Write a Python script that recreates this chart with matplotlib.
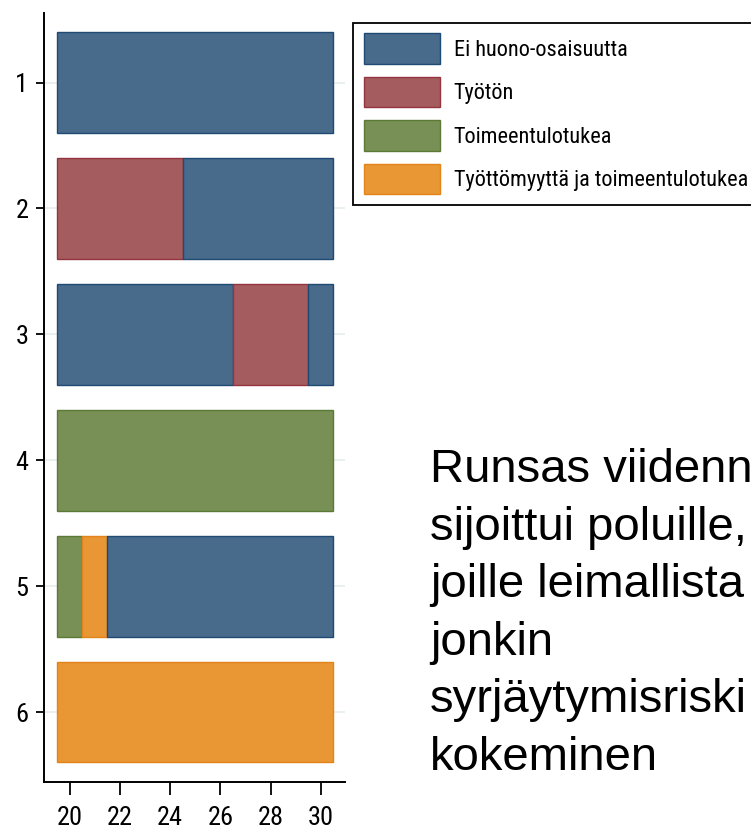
import matplotlib
matplotlib.use("Agg")
import matplotlib.pyplot as plt
from matplotlib import font_manager
from matplotlib.patches import Patch
from itertools import groupby

# ---- data ----
ages = [20, 21, 22, 23, 24, 25, 26, 27, 28, 29, 30]
row_labels = [1, 2, 3, 4, 5, 6]
state_names = ["Ei huono-osaisuutta", "Työtön", "Toimeentulotukea",
               "Työttömyyttä ja toimeentulotukea"]
# state code per age for each row (0..3 index into state_names)
seq_1 = [0, 0, 0, 0, 0, 0, 0, 0, 0, 0, 0]
seq_2 = [1, 1, 1, 1, 1, 0, 0, 0, 0, 0, 0]
seq_3 = [0, 0, 0, 0, 0, 0, 0, 1, 1, 1, 0]
seq_4 = [2, 2, 2, 2, 2, 2, 2, 2, 2, 2, 2]
seq_5 = [2, 3, 0, 0, 0, 0, 0, 0, 0, 0, 0]
seq_6 = [3, 3, 3, 3, 3, 3, 3, 3, 3, 3, 3]
sequences = [seq_1, seq_2, seq_3, seq_4, seq_5, seq_6]
x_ticks = [20, 22, 24, 26, 28, 30]
note_lines = ["Runsas viidennes", "sijoittui poluille,", "joille leimallista",
              "jonkin", "syrjäytymisriski", "kokeminen"]

# ---- style ----
fills = ["#486a8b", "#a45c5f", "#788f55", "#e99634"]
edges = ["#1f4a73", "#94343e", "#5b7a36", "#e28419"]

names = sorted({f.name for f in font_manager.fontManager.ttflist})
narrow_name = None
for key in ["Liberation Sans Narrow", "Arial Narrow", "Roboto Condensed",
            "Open Sans Condensed", "DejaVu Sans Condensed"]:
    if key in names:
        narrow_name = key
        break
if narrow_name is None:
    for n in names:
        if "Narrow" in n or "Condensed" in n:
            narrow_name = n
            break
if narrow_name is None:
    narrow_name = "Liberation Sans"
    tick_fs, leg_fs = 16, 14
else:
    tick_fs, leg_fs = 19, 16
narrow = [narrow_name, "DejaVu Sans"]

fig = plt.figure(figsize=(7.51, 8.30), dpi=100)
ax = fig.add_axes([44.3 / 751, 48 / 830, (345 - 44.3) / 751, (782 - 12.7) / 830])

for row, seq in zip(row_labels, sequences):
    i = 0
    for state, grp in groupby(seq):
        n = len(list(grp))
        ax.barh(row, n, left=ages[i] - 0.5, height=0.8, color=fills[state],
                edgecolor=edges[state], linewidth=1.0, zorder=3)
        i += n

ax.set_xlim(18.98, 30.97)
ax.set_ylim(6.555, 0.445)
ax.set_yticks(row_labels)
ax.set_yticklabels([str(r) for r in row_labels], family=narrow, fontsize=tick_fs)
ax.set_xticks(x_ticks)
ax.set_xticklabels([str(t) for t in x_ticks], family=narrow, fontsize=tick_fs)
ax.tick_params(axis="y", length=6, width=1.3, pad=5.5)
ax.tick_params(axis="x", length=9.4, width=1.3, pad=8)
for y in row_labels:
    ax.axhline(y, color="#e6eeee", lw=1.2, zorder=1)
for s in ["top", "right"]:
    ax.spines[s].set_visible(False)
for s in ["left", "bottom"]:
    ax.spines[s].set_linewidth(1.4)

handles = [Patch(facecolor=f, edgecolor=e, linewidth=1.0) for f, e in zip(fills, edges)]
fs_px = leg_fs * 100 / 72
leg = fig.legend(handles, state_names, loc="upper left",
                 bbox_to_anchor=(353 / 751, 1 - 23 / 830),
                 prop={"family": narrow, "size": leg_fs},
                 handlelength=76 / fs_px, handleheight=38.5 / fs_px,
                 labelspacing=13 / fs_px, handletextpad=14 / fs_px,
                 borderpad=10.5 / fs_px, borderaxespad=0, fancybox=False,
                 framealpha=1, edgecolor="black")
leg.get_frame().set_linewidth(1.3)

baselines = [482, 539.6, 597.2, 654.8, 712.4, 770]
for line, yb in zip(note_lines, baselines):
    fig.text(430 / 751, 1 - yb / 830, line, family=["Liberation Sans", "DejaVu Sans"],
             fontsize=34, va="baseline", ha="left", color="black")

fig.savefig("out.png", dpi=100)
